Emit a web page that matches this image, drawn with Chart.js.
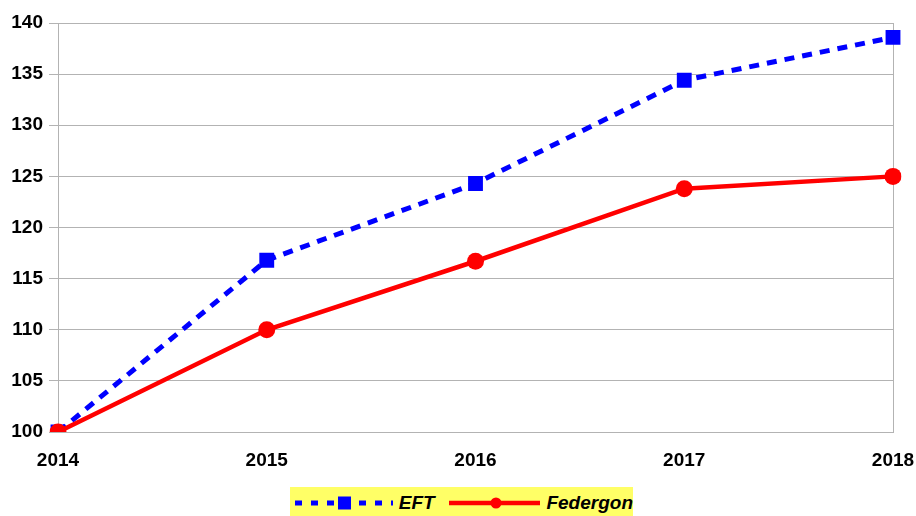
<!DOCTYPE html>
<html>
<head>
<meta charset="utf-8">
<script src="https://cdn.jsdelivr.net/npm/chart.js@4"></script>
<style>
    html, body { margin: 0; padding: 0; background: #fff; }
    #wrap { position: relative; width: 916px; height: 516px; }
    #chart { position: absolute; left: 0; top: 0; }
    #legend {
        position: absolute; left: 290px; top: 487px; width: 343px; height: 29px;
        background: #ffff66; font: italic bold 19px "Liberation Sans", Arial, sans-serif;
        color: #000; display: flex; align-items: center; padding-top: 2px; box-sizing: border-box;
    }
    #legend svg { display: block; }
    #legend span { margin-left: 6px; }
</style>
</head>
<body>
<div id="wrap">
    <canvas id="chart" width="916" height="480"></canvas>
    <div id="legend">
        <svg width="100" height="20" style="margin-left:5px">
            <line x1="0" y1="10" x2="100" y2="10" stroke="#0000ff" stroke-width="5" stroke-dasharray="7,9"/>
            <rect x="43" y="3.5" width="13" height="13" fill="#0000ff"/>
        </svg>
        <span>EFT</span>
        <svg width="94" height="20" style="margin-left:14px">
            <line x1="0" y1="10" x2="94" y2="10" stroke="#ff0000" stroke-width="4.5"/>
            <circle cx="47" cy="10" r="5.5" fill="#ff0000"/>
        </svg>
        <span>Federgon</span>
    </div>
</div>
<script>
// ═══ EFT vs Federgon index chart ═══
const years = ['2014', '2015', '2016', '2017', '2018'];
const eftValues = [100, 116.8, 124.3, 134.4, 138.6];
const federgonValues = [100, 110.0, 116.7, 123.8, 125.0];
const yTicks = { min: 100, max: 140, step: 5 };

const gridGray = '#b3b3b3';
const tickFont = { family: '"Liberation Sans", Arial, sans-serif', size: 19, weight: 'bold' };

new Chart(document.getElementById('chart'), {
    type: 'line',
    data: {
        labels: years,
        datasets: [{
            label: 'EFT',
            data: eftValues,
            borderColor: '#0000ff',
            backgroundColor: '#0000ff',
            borderWidth: 5,
            borderDash: [10, 8],
            pointStyle: 'rect',
            pointRadius: 10.5,
            pointHoverRadius: 10.5,
            pointBorderWidth: 0,
            tension: 0,
            order: 1
        }, {
            label: 'Federgon',
            data: federgonValues,
            borderColor: '#ff0000',
            backgroundColor: '#ff0000',
            borderWidth: 4.5,
            pointStyle: 'circle',
            pointRadius: 8.5,
            pointHoverRadius: 8.5,
            pointBorderWidth: 0,
            tension: 0,
            order: 0
        }]
    },
    options: {
        responsive: false,
        animation: false,
        layout: { padding: { left: 0, right: 23, top: 23, bottom: 0 } },
        plugins: { legend: { display: false }, tooltip: { enabled: false } },
        scales: {
            x: {
                offset: false,
                grid: {
                    drawTicks: false,
                    color: (c) => c.index === years.length - 1 ? gridGray : 'rgba(0,0,0,0)'
                },
                border: { color: gridGray },
                ticks: { color: '#000', font: tickFont, padding: 17, maxRotation: 0 },
                afterFit: (s) => { s.height = 48; s.paddingLeft = 0; s.paddingRight = 0; }
            },
            y: {
                min: yTicks.min,
                max: yTicks.max,
                grid: { color: gridGray, tickLength: 9 },
                border: { color: gridGray },
                ticks: { stepSize: yTicks.step, color: '#000', font: tickFont, padding: 6 },
                afterFit: (s) => { s.width = 58; s.paddingTop = 0; s.paddingBottom = 0; }
            }
        }
    }
});
</script>
</body>
</html>
